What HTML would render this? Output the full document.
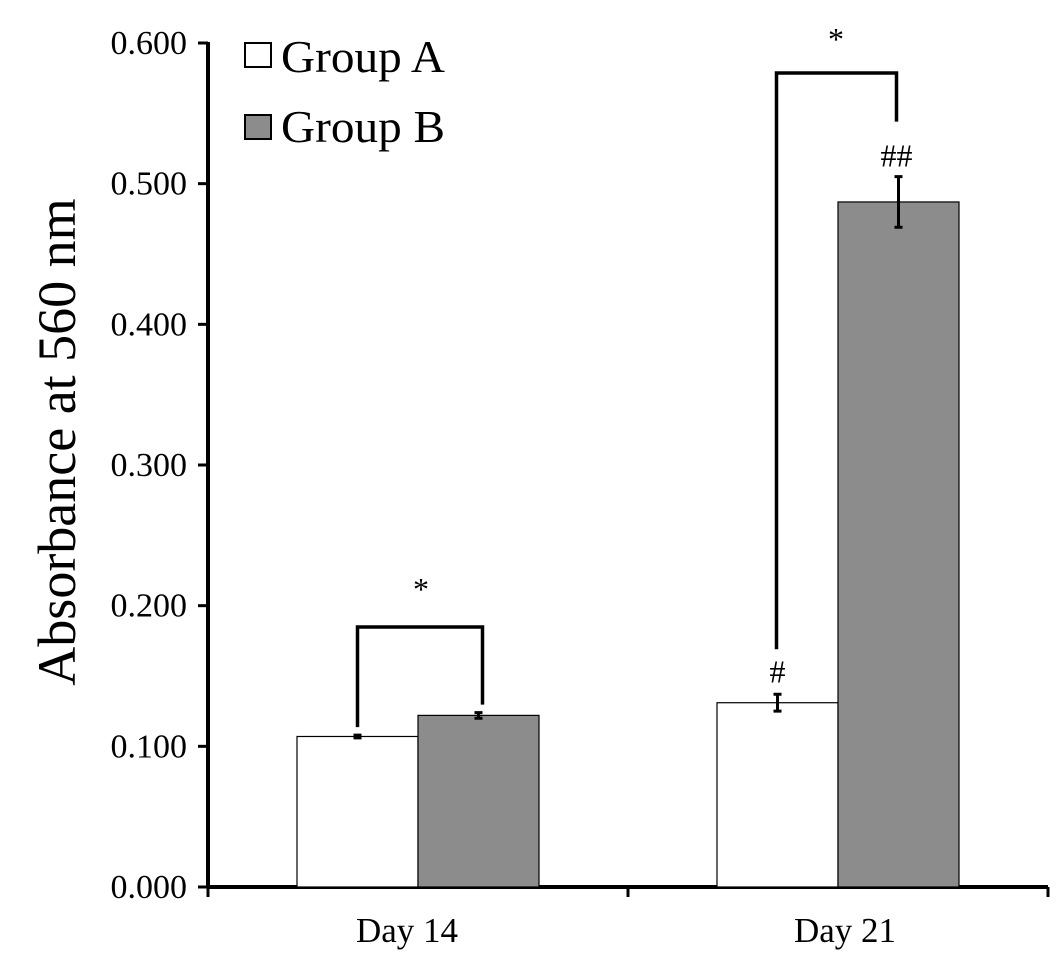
<!DOCTYPE html>
<html><head><meta charset="utf-8"><style>
body{margin:0;background:#fff;}
svg{display:block;font-family:"Liberation Serif",serif;}
</style></head><body>
<svg id="chart" width="1063" height="966" viewBox="0 0 1063 966">
<g id="axes"></g><g id="bars"></g><g id="annot"></g>
</svg>
<script>
const categories = ["Day 14", "Day 21"];
const groupA = [0.107, 0.131];
const groupB = [0.122, 0.487];
const errA = [0.001, 0.006];
const errB = [0.002, 0.018];
const yTicks = [0, 0.1, 0.2, 0.3, 0.4, 0.5, 0.6];
const tickLabels = ["0.000","0.100","0.200","0.300","0.400","0.500","0.600"];

const NS = "http://www.w3.org/2000/svg";
const x0 = 208, x1 = 1048, y0 = 887, yTop = 43, yMax = 0.6;
function yScale(v){ return y0 - (v / yMax) * (y0 - yTop); }
function catCenter(i){ return x0 + (x1 - x0) * (i + 0.5) / categories.length; }
const barW = 121;
function mk(tag, attrs, parent, text){
  const e = document.createElementNS(NS, tag);
  for (const k in attrs) e.setAttribute(k, attrs[k]);
  if (text !== undefined) e.textContent = text;
  parent.appendChild(e); return e;
}
const axes = document.getElementById("axes");
const bars = document.getElementById("bars");
const annot = document.getElementById("annot");

let yl = mk("line",{x1:x0,y1:yTop-1,x2:x0,y2:y0+1,stroke:"#000","stroke-width":4},axes);


let xl = mk("line",{x1:x0-1,y1:y0,x2:x1,y2:y0,stroke:"#000","stroke-width":4},axes);


yTicks.forEach((t,i)=>{
  const y = yScale(t);
  const tk = mk("line",{x1:x0-10,y1:y,x2:x0,y2:y,stroke:"#000","stroke-width":3},axes);
  
  
  const lb = mk("text",{x:187,y:y+11,"text-anchor":"end","font-size":34},axes,tickLabels[i]);
  
  
});
[x0, (x0+x1)/2, x1].forEach(x=>{
  const tk = mk("line",{x1:x,y1:y0,x2:x,y2:y0+10,stroke:"#000","stroke-width":3},axes);
  
  
});
categories.forEach((c,i)=>{
  const lb = mk("text",{x:catCenter(i)-11+i*18,y:942,"text-anchor":"middle","font-size":35},axes,c);
  
  
});
const yt = mk("text",{x:0,y:0,transform:"translate(75,442) rotate(-90)","text-anchor":"middle","font-size":54},axes,"Absorbance at 560 nm");



function drawBar(v, e, xl, fill, name){
  const y = yScale(v);
  const r = mk("rect",{x:xl,y:y,width:barW,height:y0-y,fill:fill,stroke:"#000","stroke-width":1.2},bars);
  
  
  const cx = xl + barW/2;
  const eb = mk("path",{d:`M${cx},${yScale(v+e)}V${yScale(v-e)}M${cx-4},${yScale(v+e)}H${cx+4}M${cx-4},${yScale(v-e)}H${cx+4}`,stroke:"#000","stroke-width":3,fill:"none"},bars);
  
  
  return {cx, top: yScale(v+e)};
}
const tops = categories.map((c,i)=>{
  const cc = catCenter(i);
  const a = drawBar(groupA[i], errA[i], cc - barW, "#fff", "bar-group-a-" + (i+1));
  const b = drawBar(groupB[i], errB[i], cc, "#8c8c8c", "bar-group-b-" + (i+1));
  return {a, b, cc};
});
let t = tops[0];
let br = mk("path",{d:`M${t.a.cx},${t.a.top-8}V627H${t.b.cx+4}V${t.b.top-8}`,stroke:"#000","stroke-width":3.5,fill:"none"},annot);


let st = mk("text",{x:(t.a.cx+t.b.cx)/2+3,y:600,"text-anchor":"middle","font-size":32},annot,"*");


t = tops[1];
br = mk("path",{d:`M${t.a.cx-1},${t.a.top-45}V73H${t.b.cx-2}V${t.b.top-55}`,stroke:"#000","stroke-width":3.5,fill:"none"},annot);


st = mk("text",{x:(t.a.cx+t.b.cx)/2-2,y:50,"text-anchor":"middle","font-size":32},annot,"*");


let h = mk("text",{x:t.a.cx,y:t.a.top-12,"text-anchor":"middle","font-size":32},annot,"#");


h = mk("text",{x:t.b.cx-2,y:t.b.top-10,"text-anchor":"middle","font-size":32},annot,"##");


</script>
<svg style="position:absolute;left:0;top:0" width="1063" height="200">
<g>
<rect x="245" y="43" width="26" height="24" fill="#fff" stroke="#000" stroke-width="2"/>
<text x="281" y="72" font-size="46" font-family="Liberation Serif, serif" textLength="164" lengthAdjust="spacingAndGlyphs">Group A</text></g>
<g>
<rect x="245" y="115" width="26" height="24" fill="#8c8c8c" stroke="#000" stroke-width="2"/>
<text x="281" y="142" font-size="46" font-family="Liberation Serif, serif" textLength="164" lengthAdjust="spacingAndGlyphs">Group B</text></g>
</svg>
</body></html>
